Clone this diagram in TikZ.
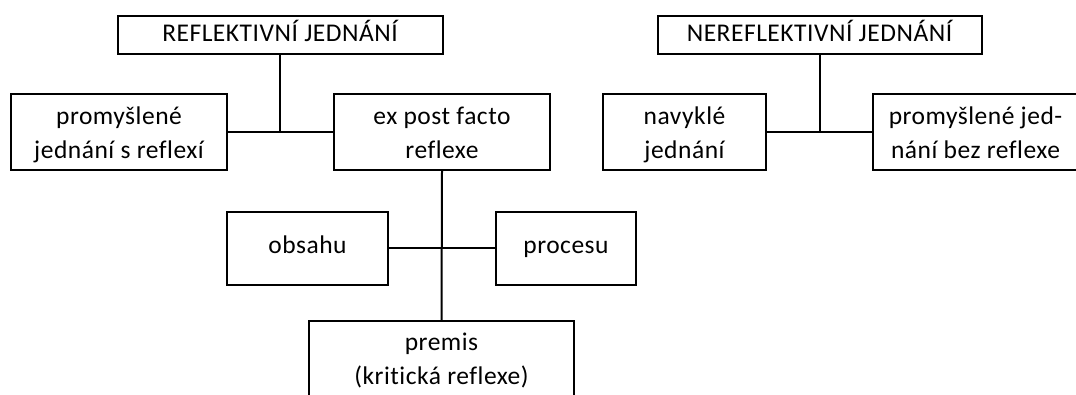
\documentclass[tikz,border=0pt]{standalone}
\usepackage{fontspec}
\setmainfont{Carlito}[Ligatures=NoCommon,LetterSpace=2]
\begin{document}
\begin{tikzpicture}[x=1pt,y=-1pt,
  box/.style={draw=black,line width=2pt,rectangle,inner sep=0pt},
  txt/.style={inner sep=0pt,anchor=base,text=black,font=\fontsize{25.5}{29}\selectfont},
  conn/.style={draw=black,line width=2pt}]
\clip (0,0) rectangle (1076,394);
\fill[white] (0,0) rectangle (1076,394);
% boxes
\node[box,minimum width=325pt,minimum height=38pt] (R) at (280,35) {};
\node[box,minimum width=324pt,minimum height=38pt] (N) at (819.5,35) {};
\node[box,minimum width=216pt,minimum height=76pt] (prom) at (119,132) {};
\node[box,minimum width=216pt,minimum height=76pt] (expost) at (442,132) {};
\node[box,minimum width=163pt,minimum height=76pt] (navykle) at (684.5,132) {};
\node[box,minimum width=205pt,minimum height=76pt] (promjed) at (975.5,132) {};
\node[box,minimum width=161pt,minimum height=73pt] (obsahu) at (307.5,248) {};
\node[box,minimum width=140pt,minimum height=73pt] (procesu) at (566,248) {};
\node[box,minimum width=265pt,minimum height=80pt] (premis) at (441.5,361) {};
% texts
\node[txt] (tR) at (280,41) {REFLEKTIVNÍ JEDNÁNÍ};
\node[txt] (tN) at (819.5,41) {NEREFLEKTIVNÍ JEDNÁNÍ};
\node[txt] (tprom1) at (119,124) {promyšlené};
\node[txt] (tprom2) at (119,158) {jednání s reflexí};
\node[txt] (texp1) at (442,124) {ex post facto};
\node[txt] (texp2) at (442,158) {reflexe};
\node[txt] (tnav1) at (684.5,124) {navyklé};
\node[txt] (tnav2) at (684.5,158) {jednání};
\node[txt] (tpj1) at (975.5,124) {promyšlené jed-};
\node[txt] (tpj2) at (975.5,158) {nání bez reflexe};
\node[txt] (tobs) at (307.5,253) {obsahu};
\node[txt] (tproc) at (566,253) {procesu};
\node[txt] (tpre1) at (441.5,350) {premis};
\node[txt] (tpre2) at (441.5,384) {(kritická reflexe)};
% connectors
\coordinate (jR) at (280,132);
\coordinate (jN) at (819.5,132);
\draw[conn] (R.south) -- (jR);
\draw[conn] (prom.east) -- (expost.west);
\draw[conn] (N.south) -- (jN);
\draw[conn] (navykle.east) -- (promjed.west);
\draw[conn] (expost.south) -- (premis.north);
\draw[conn] (obsahu.east) -- (procesu.west);
\end{tikzpicture}
\end{document}
